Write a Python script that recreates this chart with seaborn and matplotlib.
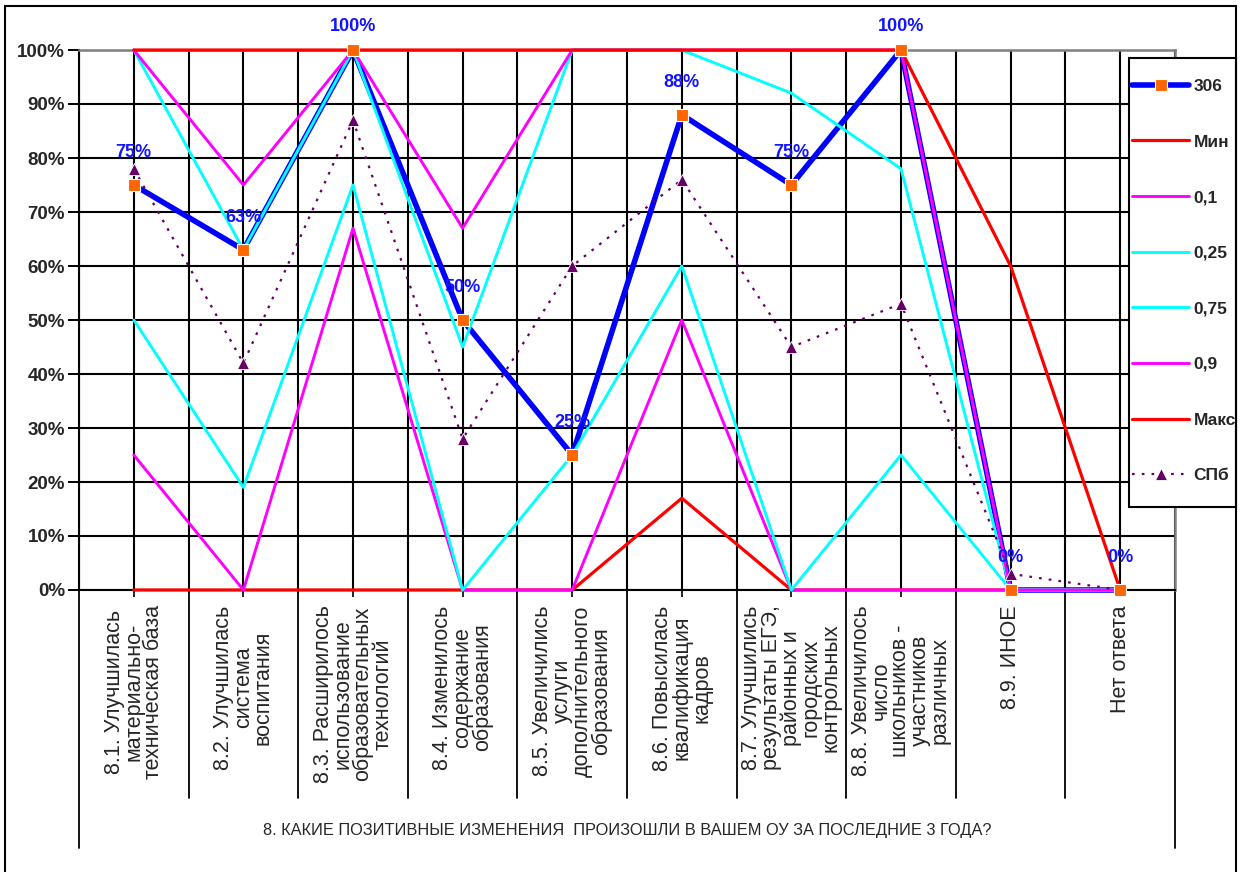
import numpy as np
import pandas as pd
import matplotlib
matplotlib.use('Agg')
import matplotlib.pyplot as plt
import matplotlib.transforms as mtransforms
import seaborn as sns

# Categories (x axis)
categories = [
    '8.1. Улучшилась\nматериально-\nтехническая база',
    '8.2. Улучшилась\nсистема\nвоспитания',
    '8.3. Расширилось\nиспользование\nобразовательных\nтехнологий',
    '8.4. Изменилось\nсодержание\nобразования',
    '8.5. Увеличились\nуслуги\nдополнительного\nобразования',
    '8.6. Повысилась\nквалификация\nкадров',
    '8.7. Улучшились\nрезультаты ЕГЭ,\nрайонных и\nгородских\nконтрольных',
    '8.8. Увеличилось\nчисло\nшкольников -\nучастников\nразличных',
    '8.9. ИНОЕ',
    'Нет ответа',
]

# Series values, %
school_306 = [75, 63, 100, 50, 25, 88, 75, 100, 0, 0]
v_min = [0, 0, 0, 0, 0, 17, 0, 0, 0, 0]
q_01 = [25, 0, 67, 0, 0, 50, 0, 0, 0, 0]
q_025 = [50, 19, 75, 0, 25, 60, 0, 25, 0, 0]
q_075 = [100, 63, 100, 45, 100, 100, 92, 78, 0, 0]
q_09 = [100, 75, 100, 67, 100, 100, 100, 100, 0, 0]
v_max = [100, 100, 100, 100, 100, 100, 100, 100, 60, 0]
spb = [78, 42, 87, 28, 60, 76, 45, 53, 3, 0]

axis_title = '8. КАКИЕ ПОЗИТИВНЫЕ ИЗМЕНЕНИЯ  ПРОИЗОШЛИ В ВАШЕМ ОУ ЗА ПОСЛЕДНИЕ 3 ГОДА?'

sns.set_style('white')
plt.rcParams['font.family'] = ['Liberation Sans', 'DejaVu Sans']
NARROW = ['Liberation Sans Narrow', 'DejaVu Sans Condensed', 'Liberation Sans']

x = np.arange(len(categories))
df = pd.DataFrame({'pos': x, '306': school_306, 'Мин': v_min, '0,1': q_01,
                   '0,25': q_025, '0,75': q_075, '0,9': q_09, 'Макс': v_max,
                   'СПб': spb})

fig = plt.figure(figsize=(12.48, 8.72), dpi=100)
ax = fig.add_axes([79 / 1248, 1 - 590 / 872, 1096 / 1248, 540 / 872])

# series (order as in legend)
sns.lineplot(data=df, x='pos', y='306', ax=ax, color='#0000FF', lw=4.0,
             marker='s', markersize=8.5, markerfacecolor='#FF6600',
             markeredgecolor='white', markeredgewidth=0.8, label='306',
             zorder=3, clip_on=False)
sns.lineplot(data=df, x='pos', y='Мин', ax=ax, color='#FF0000', lw=2.3,
             label='Мин', zorder=4, clip_on=False)
sns.lineplot(data=df, x='pos', y='0,1', ax=ax, color='#FF00FF', lw=2.1,
             label='0,1', zorder=4, clip_on=False)
sns.lineplot(data=df, x='pos', y='0,25', ax=ax, color='#00FFFF', lw=2.1,
             label='0,25', zorder=4, clip_on=False)
sns.lineplot(data=df, x='pos', y='0,75', ax=ax, color='#00FFFF', lw=2.1,
             label='0,75', zorder=4, clip_on=False)
sns.lineplot(data=df, x='pos', y='0,9', ax=ax, color='#FF00FF', lw=2.1,
             label='0,9', zorder=4, clip_on=False)
sns.lineplot(data=df, x='pos', y='Макс', ax=ax, color='#FF0000', lw=2.3,
             label='Макс', zorder=4, clip_on=False)
sns.lineplot(data=df, x='pos', y='СПб', ax=ax, color='#660066', lw=1.6,
             linestyle=(0, (1.2, 3.2)), marker='^', markersize=8.5,
             markerfacecolor='#660066', markeredgecolor='white',
             markeredgewidth=0.6, label='СПб', zorder=5, clip_on=False)
# 306 markers on top
ax.plot(x, school_306, ls='none', marker='s', markersize=8.5, mfc='#FF6600',
        mec='white', mew=0.8, zorder=6, clip_on=False)

# data labels for 306
for xi, v in zip(x, school_306):
    off = 17 if v >= 100 else 23.5
    ax.annotate(f'{v}%', (xi, v), xytext=(0, off), textcoords='offset points',
                ha='center', va='center', color='#1414FF', fontsize=13,
                fontweight='bold', family=NARROW, zorder=7)

# axes, grid
ax.set_xlim(-0.5, len(categories) - 0.5)
ax.set_ylim(0, 100)
ax.set_yticks(range(0, 101, 10))
ax.set_yticklabels([f'{t}%' for t in range(0, 101, 10)], fontsize=13.5,
                   fontweight='bold', family=NARROW)
ax.set_xticks(x)
ax.set_xticklabels(categories, rotation=90, fontsize=15.5, linespacing=0.92,
                   va='top', ha='center')
ax.set_xticks(np.arange(-0.5, len(categories), 1), minor=True)
ax.tick_params(axis='y', length=8, width=1.4, color='black', pad=2, left=True)
ax.tick_params(axis='x', which='major', length=5, width=1.2, color='black',
               pad=6, bottom=True)
ax.tick_params(axis='x', which='minor', length=0)
ax.grid(True, which='major', color='black', lw=1.5)
ax.grid(True, which='minor', axis='x', color='black', lw=1.5)
ax.set_axisbelow(True)
ax.set_xlabel('')
ax.set_ylabel('')
for side in ['left', 'bottom']:
    ax.spines[side].set_color('black')
    ax.spines[side].set_linewidth(1.5)
for side in ['top', 'right']:
    ax.spines[side].set_color('#808080')
    ax.spines[side].set_linewidth(1.8)

# category separators under the axis
trans = mtransforms.blended_transform_factory(ax.transData, ax.transAxes)
for b in np.arange(-0.5, len(categories), 1):
    bottom = -0.478 if b in (-0.5, len(categories) - 0.5) else -0.385
    ax.plot([b, b], [0, bottom], color='black', lw=1.3, transform=trans,
            clip_on=False)

fig.text(627 / 1248, 1 - 830 / 872, axis_title, ha='center', va='center',
         fontsize=11.8, family=NARROW)

# legend: white box with black frame, entries spread over it
handles, labels = ax.get_legend_handles_labels()
ax.get_legend().remove()
fig.patches.append(plt.Rectangle((1129 / 1248, 1 - 507 / 872), 107 / 1248,
                                 449 / 872, transform=fig.transFigure,
                                 facecolor='white', edgecolor='black', lw=1.5,
                                 zorder=4))
fig.legend(handles, labels, loc='center left',
           bbox_to_anchor=(1132 / 1248, 1 - 281 / 872),
           bbox_transform=fig.transFigure, frameon=False, borderaxespad=0,
           borderpad=0, handlelength=3.3, handletextpad=0.25,
           labelspacing=2.33, prop={'size': 12.5, 'weight': 'bold',
                                    'family': NARROW})

# outer frame
fig.patches.append(plt.Rectangle((5 / 1248, -0.01), 1231 / 1248, 1 - 6 / 872 + 0.01,
                                 transform=fig.transFigure, fill=False,
                                 edgecolor='black', lw=1.5, zorder=6))

fig.savefig('out.png', dpi=100)
